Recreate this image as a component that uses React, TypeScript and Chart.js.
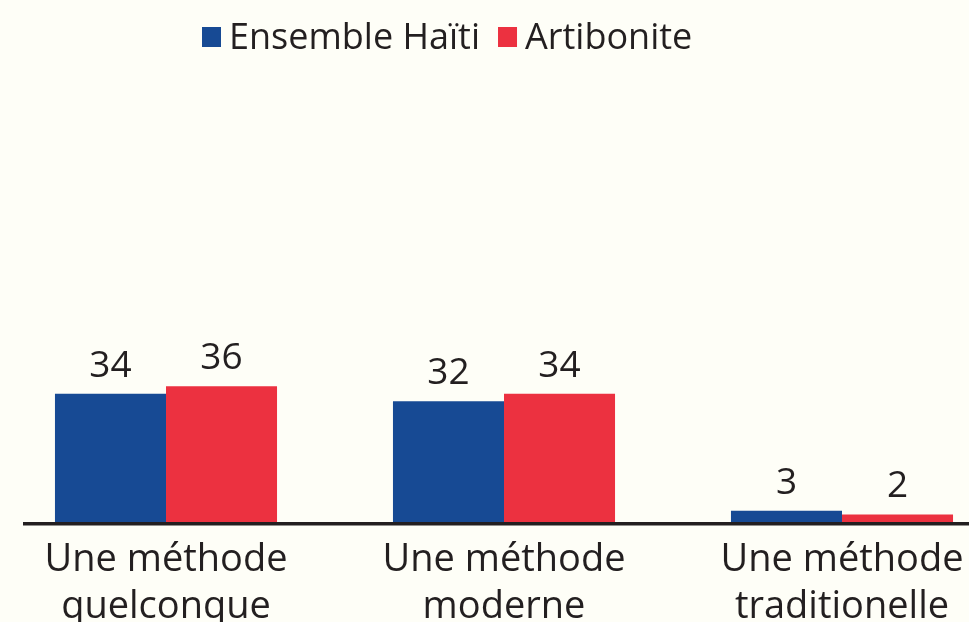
import React, { useEffect, useRef } from "react";
import { Chart, registerables } from "chart.js";

Chart.register(...registerables);

const categories: string[][] = [
  ["Une méthode", "quelconque"],
  ["Une méthode", "moderne"],
  ["Une méthode", "traditionelle"],
];
const seriesNames = ["Ensemble Haïti", "Artibonite"];
const ensembleHaiti = [34, 32, 3];
const artibonite = [36, 34, 2];
const colors = ["#174a94", "#ec3140"];

const BG = "#fefef7";
const INK = "#231f20";
const FONT = "'Open Sans', sans-serif";
const OFFSET_X = -3;

const valueLabels = {
  id: "valueLabels",
  afterDatasetsDraw(chart: any) {
    const ctx = chart.ctx;
    ctx.save();
    ctx.fillStyle = INK;
    ctx.font = `37px ${FONT}`;
    ctx.textAlign = "center";
    ctx.textBaseline = "alphabetic";
    chart.data.datasets.forEach((ds: any, i: number) => {
      const meta = chart.getDatasetMeta(i);
      meta.data.forEach((el: any, j: number) => {
        ctx.fillText(String(ds.data[j]), el.x, el.y - 17);
      });
    });
    ctx.restore();
  },
};

const baseLine = {
  id: "baseLine",
  afterDatasetsDraw(chart: any) {
    const ctx = chart.ctx;
    const y = chart.chartArea.bottom;
    ctx.save();
    ctx.fillStyle = INK;
    ctx.fillRect(23 - OFFSET_X, y, chart.width, 3.5);
    ctx.restore();
  },
};

const customLegend = {
  id: "customLegend",
  afterDraw(chart: any) {
    const ctx = chart.ctx;
    ctx.save();
    ctx.font = `36px ${FONT}`;
    ctx.textBaseline = "alphabetic";
    ctx.textAlign = "left";
    let x = 202 - OFFSET_X;
    chart.data.datasets.forEach((ds: any, i: number) => {
      ctx.fillStyle = colors[i];
      ctx.fillRect(x, 27, 19, 20);
      x += 19 + 8;
      ctx.fillStyle = INK;
      ctx.fillText(ds.label, x, 49);
      x += ctx.measureText(ds.label).width + 18;
    });
    ctx.restore();
  },
};

export default function App() {
  const ref = useRef<HTMLCanvasElement | null>(null);
  useEffect(() => {
    if (!ref.current) return;
    const chart = new Chart(ref.current, {
      type: "bar",
      data: {
        labels: categories,
        datasets: [
          { label: seriesNames[0], data: ensembleHaiti, backgroundColor: colors[0] },
          { label: seriesNames[1], data: artibonite, backgroundColor: colors[1] },
        ],
      },
      options: {
        responsive: false,
        animation: false,
        devicePixelRatio: 1,
        layout: { padding: { top: 145, left: 0, right: 0, bottom: 0 } },
        datasets: { bar: { categoryPercentage: 0.657, barPercentage: 1 } },
        plugins: { legend: { display: false }, tooltip: { enabled: false } },
        scales: {
          x: {
            grid: { display: false, drawTicks: false },
            border: { display: false },
            ticks: {
              color: INK,
              font: { family: FONT, size: 38, lineHeight: 47 / 38 },
              padding: 15,
              maxRotation: 0,
              autoSkip: false,
            },
            afterFit: (scale: any) => {
              scale.height = 100;
            },
          },
          y: { display: false, min: 0, max: 100 },
        },
      },
      plugins: [baseLine, valueLabels, customLegend],
    });
    return () => chart.destroy();
  }, []);
  return (
    <div
      style={{
        position: "fixed",
        left: 0,
        top: 0,
        width: 969,
        height: 622,
        overflow: "hidden",
        background: BG,
      }}
    >
      <canvas
        ref={ref}
        width={1014}
        height={622}
        style={{ position: "absolute", left: OFFSET_X, top: 0, width: 1014, height: 622 }}
      />
    </div>
  );
}
